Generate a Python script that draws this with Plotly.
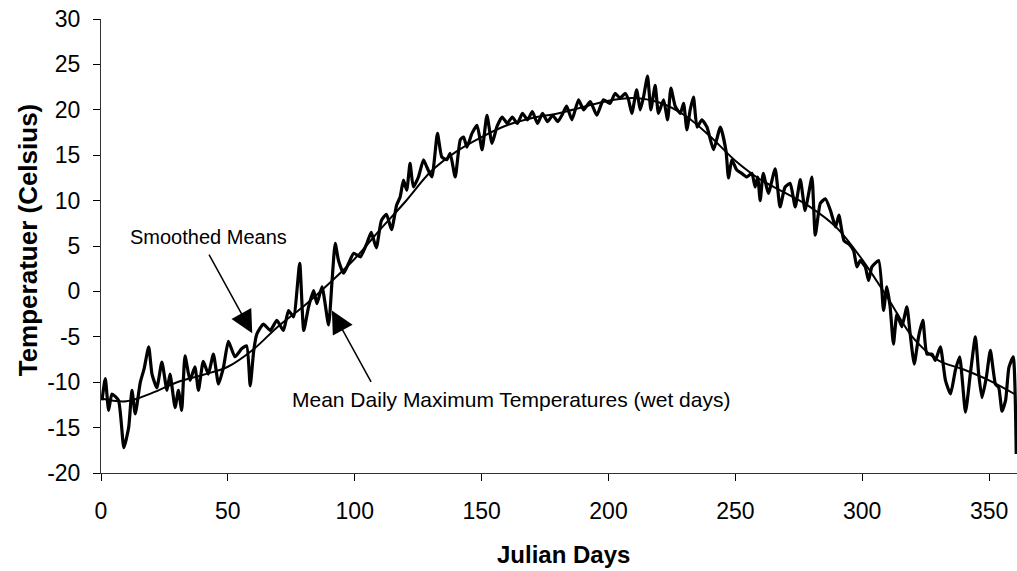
import plotly.graph_objects as go

# Smoothed means
smooth_days = [0, 10, 20, 30, 40, 50, 60, 70, 80, 90, 100, 110, 120, 130, 140, 150, 160, 170, 180,
               190, 200, 210, 220, 230, 240, 250, 260, 270, 280, 290, 300, 310, 320, 330, 340, 350, 360]
smooth_temp = [-11.8, -12.1, -11.2, -10.0, -9.2, -8.3, -6.4, -3.8, -1.6, 0.9, 3.6, 6.8, 9.9, 13.2, 15.4,
               17.0, 18.3, 19.1, 19.6, 20.3, 21.0, 21.3, 20.8, 19.4, 17.1, 14.4, 12.3, 10.8, 9.2, 7.0,
               3.5, -0.7, -5.1, -7.6, -8.6, -9.8, -11.3]

# Mean daily maximum temperatures (wet days)
obs_days = [0.4, 1.7, 3.0, 4.3, 6.9, 9.0, 10.9, 12.2, 13.5, 15.5, 17.0, 18.8, 20.1, 22.0, 24.0, 26.0,
            27.2, 29.2, 30.5, 31.8, 33.1, 35.1, 37.0, 38.4, 40.3, 42.3, 44.3, 46.3, 48.3, 50.2, 52.8,
            55.5, 57.4, 58.8, 60.2, 61.4, 64.0, 66.7, 69.3, 71.9, 73.9, 75.9, 78.3, 79.9, 81.8, 83.8,
            85.1, 87.1, 89.7, 91.0, 92.3, 93.6, 95.6, 97.6, 99.6, 102.2, 104.8, 106.5, 108.5, 110.5,
            112.5, 114.5, 116.5, 117.9, 119.2, 120.5, 121.8, 123.1, 125.1, 127.1, 128.4, 130.4, 132.6,
            134.3, 136.3, 137.6, 139.6, 141.6, 142.9, 144.2, 146.2, 148.2, 150.2, 152.1, 154.1, 156.1,
            158.1, 160.1, 162.1, 164.1, 166.1, 168.1, 170.0, 172.0, 174.0, 176.0, 178.0, 180.0, 182.0,
            183.5, 185.6, 188.2, 190.2, 192.8, 195.4, 198.0, 200.6, 202.6, 204.6, 206.6, 207.9, 209.2,
            211.1, 212.5, 213.8, 215.4, 216.7, 218.4, 219.7, 221.7, 223.3, 224.6, 226.3, 228.3, 229.6,
            230.9, 232.2, 233.5, 234.9, 236.8, 238.8, 241.4, 244.1, 246.3, 247.3, 248.6, 250.5, 252.5,
            254.5, 256.5, 257.8, 258.8, 259.8, 261.0, 263.0, 265.7, 267.6, 269.6, 271.6, 273.6, 275.6,
            277.5, 278.9, 280.2, 281.5, 283.5, 285.5, 287.5, 289.5, 290.8, 292.8, 294.8, 296.6, 297.9,
            299.2, 301.2, 302.5, 303.8, 306.5, 308.4, 309.7, 311.0, 312.3, 313.7, 315.6, 317.6, 318.9,
            320.5, 322.2, 323.9, 325.5, 327.5, 328.8, 330.8, 332.8, 334.8, 336.7, 338.4, 340.7, 342.6,
            344.6, 345.9, 347.2, 348.9, 350.5, 352.5, 353.8, 355.1, 356.5, 357.8, 359.5, 360.7]
obs_temp = [-12.0, -9.6, -13.1, -11.3, -12.0, -17.2, -15.0, -10.9, -13.5, -10.0, -8.5, -6.1, -9.1, -10.6,
            -7.8, -10.9, -9.1, -12.8, -10.9, -13.1, -7.1, -9.8, -8.3, -10.9, -7.7, -9.1, -6.9, -10.2,
            -8.3, -5.5, -7.2, -6.3, -6.0, -10.4, -6.5, -4.7, -3.6, -4.3, -3.2, -4.3, -2.1, -2.8, 3.1,
            -4.3, -1.7, 0.1, -1.35, 0.5, -3.7, 0.9, 5.3, 3.4, 2.0, 3.1, 4.2, 3.8, 5.3, 6.5, 4.8, 7.8,
            8.5, 6.8, 9.5, 10.4, 12.25, 11.15, 14.1, 11.5, 12.6, 14.5, 13.7, 12.6, 17.4, 14.8, 14.5,
            15.2, 12.6, 16.7, 17.0, 15.9, 17.4, 18.3, 15.6, 19.4, 16.3, 18.2, 19.2, 18.5, 19.2, 18.5,
            19.6, 18.9, 19.8, 18.5, 19.6, 18.7, 19.4, 18.7, 19.6, 20.4, 18.9, 21.1, 20.0, 20.9, 19.4,
            21.1, 20.7, 21.8, 21.3, 21.8, 21.1, 19.6, 22.2, 20.0, 21.4, 23.7, 20.0, 22.7, 19.6, 21.1,
            18.9, 22.4, 20.4, 19.6, 20.7, 17.8, 20.0, 21.4, 18.1, 18.9, 18.1, 15.6, 18.1, 15.5, 12.5,
            14.5, 13.4, 13.0, 12.6, 13.0, 11.5, 12.6, 10.0, 13.0, 10.8, 13.5, 9.3, 11.5, 11.9, 9.3,
            12.3, 8.9, 10.8, 12.6, 6.2, 9.7, 10.2, 8.9, 7.1, 8.4, 5.6, 5.2, 4.5, 2.7, 3.4, 2.7, 1.2,
            2.7, 3.4, -2.1, 0.5, -1.7, -5.8, -2.5, -3.9, -1.7, -4.7, -8.0, -5.0, -3.2, -6.9, -6.9,
            -7.6, -6.1, -9.8, -11.3, -8.7, -7.2, -13.3, -9.1, -5.0, -9.1, -11.7, -9.5, -6.5, -10.2,
            -10.6, -13.2, -12.0, -8.4, -7.2, -17.9]

x_ticks = [0, 50, 100, 150, 200, 250, 300, 350]
y_ticks = [-20, -15, -10, -5, 0, 5, 10, 15, 20, 25, 30]
y_tick_text = ["-20", "-15", "-10", "-5", "0", "5", "10", "15", "20", "25", "30"]

FONT = "Arial, Liberation Sans, sans-serif"

fig = go.Figure()
fig.add_trace(go.Scatter(x=obs_days, y=obs_temp, mode="lines",
                         line=dict(color="black", width=3.2, shape="spline", smoothing=0.5),
                         cliponaxis=False, showlegend=False))
fig.add_trace(go.Scatter(x=smooth_days, y=smooth_temp, mode="lines",
                         line=dict(color="black", width=2, shape="spline"),
                         showlegend=False))

fig.update_layout(
    width=1017, height=571,
    margin=dict(l=101, r=0, t=19, b=98),
    paper_bgcolor="white", plot_bgcolor="white",
    font=dict(family=FONT, color="black"),
    xaxis=dict(range=[0, 361], tickvals=x_ticks, ticks="outside", ticklen=7, tickwidth=1,
               tickcolor="black", showline=True, linecolor="#333", linewidth=1, showgrid=False,
               zeroline=False, tickfont=dict(size=23, family=FONT), ticklabelstandoff=10),
    yaxis=dict(range=[-20, 30], tickvals=y_ticks, ticktext=y_tick_text, ticks="outside",
               ticklen=7, tickwidth=1, tickcolor="black", showline=True, linecolor="#333",
               linewidth=1, showgrid=False, zeroline=False,
               tickfont=dict(size=23, family=FONT), ticklabelstandoff=8),
    annotations=[
        dict(text="<b>Julian Days</b>", xref="paper", yref="paper", x=(563 - 100.7) / 916.3,
             y=(473 - 554) / 454, xanchor="center", yanchor="middle", showarrow=False,
             font=dict(size=24, family=FONT)),
        dict(text="<b>Temperatuer (Celsius)</b>", xref="paper", yref="paper",
             x=(28 - 100.7) / 916.3, y=(473 - 240) / 454, textangle=-90,
             xanchor="center", yanchor="middle", showarrow=False,
             font=dict(size=26, family=FONT)),
        dict(text="Smoothed Means", xref="paper", yref="paper", x=(208 - 100.7) / 916.3,
             y=(473 - 237) / 454, xanchor="center", yanchor="middle", showarrow=False,
             font=dict(size=20, family=FONT)),
        dict(text="Mean Daily Maximum Temperatures (wet days)", xref="paper", yref="paper",
             x=(511 - 100.7) / 916.3, y=(473 - 399) / 454, xanchor="center", yanchor="middle",
             showarrow=False, font=dict(size=21, family=FONT)),
        dict(text="", x=59.6, y=-4.6, xref="x", yref="y", showarrow=True, ax=-44, ay=-80,
             arrowhead=2, arrowsize=3, arrowwidth=1.5, arrowcolor="black"),
        dict(text="", x=91.0, y=-2.1, xref="x", yref="y", showarrow=True, ax=40, ay=73,
             arrowhead=2, arrowsize=3, arrowwidth=1.5, arrowcolor="black"),
    ],
)

fig.write_html("out.html")
